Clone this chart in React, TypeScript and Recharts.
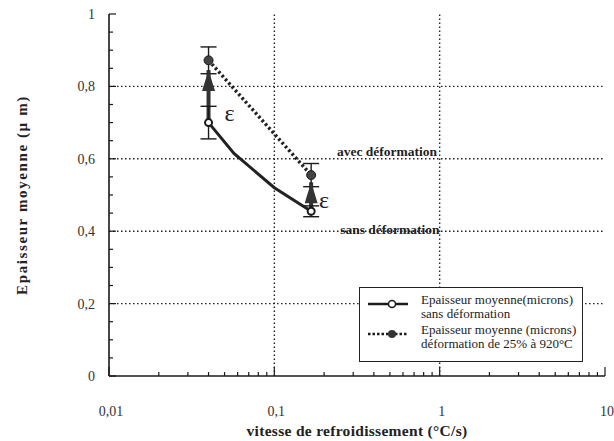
import { ComposedChart, Line, Scatter, XAxis, YAxis, ReferenceLine, ErrorBar, Legend } from 'recharts';

// cooling rate (°C/s) and mean thickness (µm)
const sansX = [0.04, 0.057, 0.1, 0.167];
const sansY = [0.70, 0.615, 0.52, 0.455];
const avecX = [0.04, 0.167];
const avecY = [0.872, 0.555];

// measured points with error bars
const sansPtX = [0.04, 0.167];
const sansPtY = [0.70, 0.455];
const sansErr = [0.045, 0.015];
const avecPtX = [0.04, 0.167];
const avecPtY = [0.872, 0.555];
const avecErr = [0.037, 0.032];

// deformation arrows (from -> to)
const arrowX = [0.04, 0.167];
const arrowFrom = [0.70, 0.455];
const arrowTo = [0.845, 0.535];

// annotations
const noteX = [0.0536, 0.2, 0.48, 0.5];
const noteY = [0.727, 0.486, 0.621, 0.404];
const noteText = ['ε', 'ε', 'avec déformation', 'sans déformation'];

const xMajor = [0.01, 0.1, 1, 10];
const xMinor = [0.02, 0.03, 0.04, 0.05, 0.06, 0.07, 0.08, 0.09, 0.2, 0.3, 0.4, 0.5, 0.6, 0.7, 0.8, 0.9, 2, 3, 4, 5, 6, 7, 8, 9];
const yMajor = [0, 0.2, 0.4, 0.6, 0.8, 1];
const yMinor = [0.05, 0.1, 0.15, 0.25, 0.3, 0.35, 0.45, 0.5, 0.55, 0.65, 0.7, 0.75, 0.85, 0.9, 0.95];
const xGrid = [0.1, 1];
const yGrid = [0.2, 0.4, 0.6, 0.8];

const xTicks = [...xMajor, ...xMinor].sort((a, b) => a - b);
const yTicks = [...yMajor, ...yMinor].sort((a, b) => a - b);

const sansData = sansX.map((x, i) => ({ x, y: sansY[i] }));
const avecData = avecX.map((x, i) => ({ x, y: avecY[i] }));
const sansPts = sansPtX.map((x, i) => ({ x, y: sansPtY[i], err: sansErr[i] }));
const avecPts = avecPtX.map((x, i) => ({ x, y: avecPtY[i], err: avecErr[i] }));
const arrows = arrowX.map((x, i) => [{ x, y: arrowFrom[i] }, { x, y: arrowTo[i] }]);
const notes = noteX.map((x, i) => ({ x, y: noteY[i], text: noteText[i] }));

const SERIF = '"Liberation Serif", "DejaVu Serif", serif';
const INK = '#1a1a1a';

const fmt = (v: number) => String(v).replace('.', ',');

function BottomTick({ x, y, payload }: any) {
    const major = xMajor.includes(payload.value);
    return (
        <g>
            <line x1={x} x2={x} y1={y} y2={y - (major ? 9 : 4)} stroke={INK} strokeWidth={1.2} />
            {major && (
                <text x={x + 2} y={y + 40} textAnchor="middle" fontSize={14} fill="#333" fontFamily={SERIF}>
                    {fmt(payload.value)}
                </text>
            )}
        </g>
    );
}

function TopTick({ x, y, payload }: any) {
    const major = xMajor.includes(payload.value);
    return <line x1={x} x2={x} y1={y} y2={y + (major ? 9 : 4)} stroke={INK} strokeWidth={1.2} />;
}

function LeftTick({ x, y, payload }: any) {
    const major = yMajor.includes(payload.value);
    return (
        <g>
            <line x1={x} x2={x + (major ? 7 : 4)} y1={y} y2={y} stroke={INK} strokeWidth={1.2} />
            {major && (
                <text x={x - 14} y={y + 5} textAnchor="end" fontSize={14} fill="#333" fontFamily={SERIF}>
                    {fmt(payload.value)}
                </text>
            )}
        </g>
    );
}

function RightTick({ x, y, payload }: any) {
    const major = yMajor.includes(payload.value);
    return <line x1={x} x2={x - (major ? 7 : 4)} y1={y} y2={y} stroke={INK} strokeWidth={1.2} />;
}

function OpenDot({ cx, cy }: any) {
    return <circle cx={cx} cy={cy} r={3.5} fill="#fff" stroke={INK} strokeWidth={2} />;
}

function FilledDot({ cx, cy }: any) {
    return <circle cx={cx} cy={cy} r={4.5} fill="#444" stroke={INK} strokeWidth={1} />;
}

function ArrowHead({ cx, cy, index }: any) {
    if (index !== 1) return <g key={`a${index}`} />;
    return <polygon key={`a${index}`} points={`${cx},${cy} ${cx - 6.5},${cy + 21} ${cx + 6.5},${cy + 21}`} fill="#333" />;
}

function Note({ cx, cy, payload }: any) {
    const eps = payload.text === 'ε';
    return (
        <text
            x={cx}
            y={cy}
            textAnchor="middle"
            dominantBaseline="central"
            fontFamily={SERIF}
            fontSize={eps ? 24 : 13.5}
            fontWeight={eps ? 400 : 700}
            fill="#222"
        >
            {payload.text}
        </text>
    );
}

function LegendBox() {
    const row = { display: 'flex', alignItems: 'flex-start' } as const;
    return (
        <div style={{
            width: 224,
            height: 75,
            boxSizing: 'border-box',
            border: '1.5px solid #222',
            background: '#fff',
            fontFamily: SERIF,
            fontSize: 13,
            lineHeight: '14px',
            color: '#222',
            padding: '5px 0 0 8px',
            whiteSpace: 'nowrap',
        }}>
            <div style={row}>
                <svg width={42} height={28} style={{ marginRight: 11, flexShrink: 0 }}>
                    <line x1={0} x2={40} y1={11} y2={11} stroke={INK} strokeWidth={2.5} />
                    <circle cx={24} cy={11} r={3.5} fill="#fff" stroke={INK} strokeWidth={1.5} />
                </svg>
                <div>Epaisseur moyenne(microns)<br />sans déformation</div>
            </div>
            <div style={{ ...row, marginTop: 2 }}>
                <svg width={42} height={28} style={{ marginRight: 11, flexShrink: 0 }}>
                    <line x1={0} x2={40} y1={11} y2={11} stroke={INK} strokeWidth={2.5} strokeDasharray="2.5 2" />
                    <circle cx={24} cy={11} r={4} fill="#333" />
                </svg>
                <div>Epaisseur moyenne (microns)<br />déformation de 25% à 920°C</div>
            </div>
        </div>
    );
}

export default function App() {
    return (
        <div style={{ position: 'absolute', left: 0, top: 0, background: '#fff' }}>
            <ComposedChart width={614} height={441} margin={{ top: 14, right: 9, bottom: 0, left: 0 }}>
                <XAxis
                    dataKey="x"
                    type="number"
                    scale="log"
                    domain={[0.01, 10]}
                    allowDataOverflow
                    ticks={xTicks}
                    interval={0}
                    tickSize={0}
                    tickMargin={0}
                    height={65}
                    tick={<BottomTick />}
                    axisLine={{ stroke: INK, strokeWidth: 1.6 }}
                    tickLine={false}
                    label={{
                        content: ({ viewBox }: any) => (
                            <text
                                x={viewBox.x + viewBox.width / 2}
                                y={viewBox.y + 60}
                                textAnchor="middle"
                                fontFamily={SERIF}
                                fontWeight={700}
                                fontSize={15.5}
                                letterSpacing={0.3}
                                fill="#222"
                            >
                                vitesse de refroidissement (°C/s)
                            </text>
                        ),
                    }}
                />
                <XAxis
                    xAxisId="top"
                    orientation="top"
                    dataKey="x"
                    type="number"
                    scale="log"
                    domain={[0.01, 10]}
                    allowDataOverflow
                    ticks={xTicks}
                    interval={0}
                    tickSize={0}
                    tickMargin={0}
                    height={0}
                    tick={<TopTick />}
                    axisLine={{ stroke: INK, strokeWidth: 1.6 }}
                    tickLine={false}
                />
                <YAxis
                    dataKey="y"
                    type="number"
                    domain={[0, 1]}
                    allowDataOverflow
                    ticks={yTicks}
                    interval={0}
                    tickSize={0}
                    tickMargin={0}
                    width={109}
                    tick={<LeftTick />}
                    axisLine={{ stroke: INK, strokeWidth: 1.6 }}
                    tickLine={false}
                    label={{
                        content: ({ viewBox }: any) => {
                            const cx = viewBox.x + 22;
                            const cy = viewBox.y + viewBox.height / 2;
                            return (
                                <text
                                    x={cx}
                                    y={cy}
                                    transform={`rotate(-90 ${cx} ${cy})`}
                                    textAnchor="middle"
                                    dominantBaseline="central"
                                    fontFamily={SERIF}
                                    fontWeight={700}
                                    fontSize={15}
                                    letterSpacing={1.6}
                                    fill="#222"
                                >
                                    Epaisseur moyenne  (µ m)
                                </text>
                            );
                        },
                    }}
                />
                <YAxis
                    yAxisId="right"
                    orientation="right"
                    type="number"
                    domain={[0, 1]}
                    allowDataOverflow
                    ticks={yTicks}
                    interval={0}
                    tickSize={0}
                    tickMargin={0}
                    width={0}
                    tick={<RightTick />}
                    axisLine={{ stroke: INK, strokeWidth: 1.6 }}
                    tickLine={false}
                />

                {xGrid.map((v) => (
                    <ReferenceLine key={`gx${v}`} x={v} stroke="#222" strokeWidth={1.4} strokeDasharray="1.5 2.5" />
                ))}
                {yGrid.map((v) => (
                    <ReferenceLine key={`gy${v}`} y={v} stroke="#222" strokeWidth={1.4} strokeDasharray="1.5 2.5" />
                ))}

                <Line
                    data={sansData}
                    dataKey="y"
                    type="linear"
                    stroke="#222"
                    strokeWidth={3}
                    dot={false}
                    activeDot={false}
                    isAnimationActive={false}
                />
                <Line
                    data={avecData}
                    dataKey="y"
                    type="linear"
                    stroke="#222"
                    strokeWidth={3.5}
                    strokeDasharray="2.5 2.5"
                    dot={false}
                    activeDot={false}
                    isAnimationActive={false}
                />
                {arrows.map((a, i) => (
                    <Line
                        key={`arrow${i}`}
                        data={a}
                        dataKey="y"
                        type="linear"
                        stroke="#333"
                        strokeWidth={4}
                        dot={<ArrowHead />}
                        activeDot={false}
                        isAnimationActive={false}
                    />
                ))}
                <Scatter data={sansPts} dataKey="y" shape={<OpenDot />} isAnimationActive={false}>
                    <ErrorBar dataKey="err" direction="y" width={8} stroke={INK} strokeWidth={1.4} />
                </Scatter>
                <Scatter data={avecPts} dataKey="y" shape={<FilledDot />} isAnimationActive={false}>
                    <ErrorBar dataKey="err" direction="y" width={8} stroke={INK} strokeWidth={1.4} />
                </Scatter>
                <Scatter data={notes} dataKey="y" shape={<Note />} isAnimationActive={false} />

                <Legend
                    layout="horizontal"
                    verticalAlign="middle"
                    align="center"
                    content={<LegendBox />}
                    wrapperStyle={{ left: 359, top: 287, width: 224, height: 75 }}
                />
            </ComposedChart>
        </div>
    );
}
